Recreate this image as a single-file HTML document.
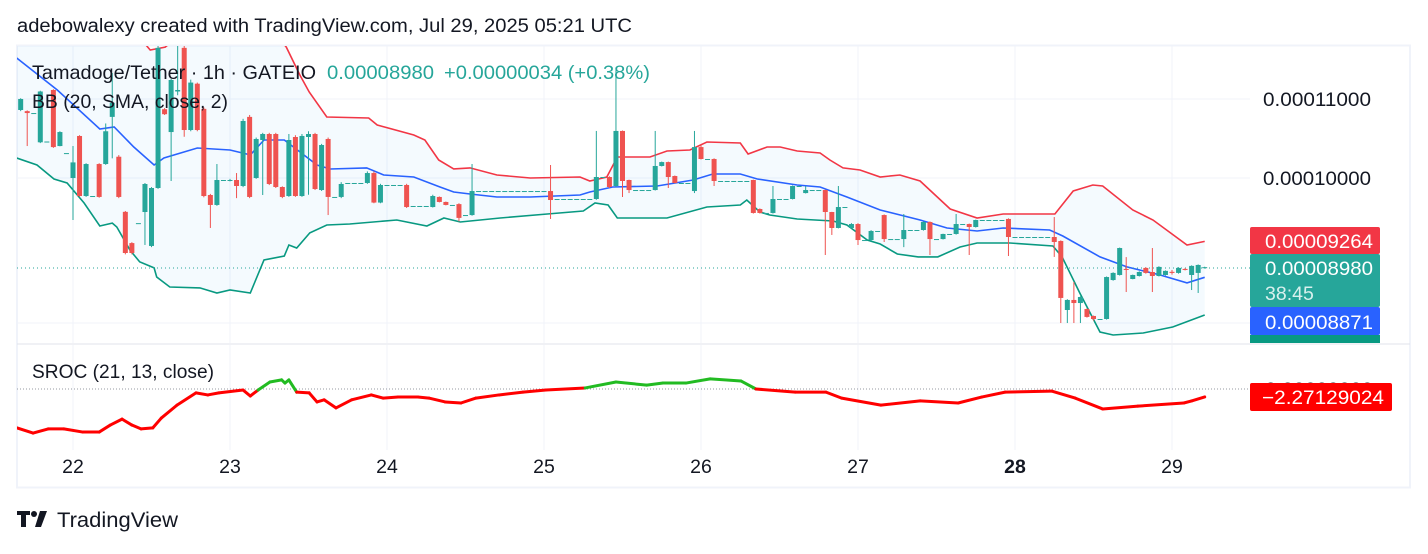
<!DOCTYPE html>
<html><head><meta charset="utf-8">
<style>
html,body{margin:0;padding:0;background:#fff;}
body{width:1428px;height:549px;overflow:hidden;font-family:"Liberation Sans",Arial,sans-serif;}
svg text{font-family:"Liberation Sans",Arial,sans-serif;}
</style></head>
<body>
<svg id="chart" width="1428" height="549" viewBox="0 0 1428 549" xmlns="http://www.w3.org/2000/svg">
  <text x="17" y="32" font-size="19.6" fill="#131722" textLength="615" lengthAdjust="spacingAndGlyphs">adebowalexy created with TradingView.com, Jul 29, 2025 05:21 UTC</text>
  <rect x="17" y="45.5" width="1393" height="442" fill="none" stroke="#f0f3fa" stroke-width="2"/>
  <g id="grid"></g>
  <defs>
    <clipPath id="mainClip"><rect x="17" y="46" width="1233" height="297"/></clipPath>
    <clipPath id="subClip"><rect x="17" y="345" width="1233" height="105"/></clipPath>
  </defs>
  <g id="bands" clip-path="url(#mainClip)"></g>
  <line x1="17" x2="1250" y1="268" y2="268" stroke="#26a69a" stroke-width="1" stroke-dasharray="1,3"/>
  <g id="candles" clip-path="url(#mainClip)"></g>
  <line x1="17" x2="1410" y1="344" y2="344" stroke="#e0e3eb" stroke-width="1"/>
  <line x1="17" x2="1250" y1="389" y2="389" stroke="#9598a1" stroke-width="1" stroke-dasharray="1,2"/>
  <g id="sroc" clip-path="url(#subClip)"></g>

  <g>
    <text x="32" y="79" font-size="19.5" fill="#131722" textLength="284" lengthAdjust="spacingAndGlyphs">Tamadoge/Tether · 1h · GATEIO</text>
    <text x="327" y="79" font-size="19.5" fill="#26a69a" textLength="107" lengthAdjust="spacingAndGlyphs">0.00008980</text>
    <text x="444" y="79" font-size="19.5" fill="#26a69a" textLength="206" lengthAdjust="spacingAndGlyphs">+0.00000034 (+0.38%)</text>
    <text x="32" y="108" font-size="19.5" fill="#131722" textLength="196" lengthAdjust="spacingAndGlyphs">BB (20, SMA, close, 2)</text>
    <text x="32" y="378" font-size="19.5" fill="#131722" textLength="182" lengthAdjust="spacingAndGlyphs">SROC (21, 13, close)</text>
  </g>

  <g id="priceaxis"></g>

  <g>
    <rect x="1250" y="227" width="130" height="27" rx="2" fill="#f23645"/>
    <text x="1265" y="248" font-size="19.5" fill="#fff" textLength="108" lengthAdjust="spacingAndGlyphs">0.00009264</text>
    <rect x="1250" y="254" width="130" height="53" rx="2" fill="#26a69a"/>
    <text x="1265" y="275" font-size="19.5" fill="#fff" textLength="108" lengthAdjust="spacingAndGlyphs">0.00008980</text>
    <text x="1265" y="300" font-size="19.5" fill="#d8f0ed">38:45</text>
    <rect x="1250" y="307" width="130" height="28" rx="2" fill="#2962ff"/>
    <text x="1265" y="329" font-size="19.5" fill="#fff" textLength="108" lengthAdjust="spacingAndGlyphs">0.00008871</text>
    <rect x="1250" y="335" width="130" height="8" fill="#089981"/>
    <text x="1265" y="396" font-size="19.5" fill="#131722" textLength="108" lengthAdjust="spacingAndGlyphs">0.00000000</text>
    <rect x="1250" y="383" width="142" height="28" rx="2" fill="#ff0000"/>
    <text x="1262" y="404" font-size="19.5" fill="#fff" textLength="122" lengthAdjust="spacingAndGlyphs">−2.27129024</text>
  </g>

  <g id="timeaxis"></g>

  <g>
    <path d="M17 511h13v4h-4v12h-5v-12h-4z" fill="#131722"/>
    <circle cx="34" cy="514" r="3" fill="#131722"/>
    <path d="M40 511h7l-6 16h-6z" fill="#131722"/>
    <text x="57" y="527" font-size="21.5" fill="#131722" textLength="121" lengthAdjust="spacingAndGlyphs">TradingView</text>
  </g>
</svg>
<script>
// ---- data (prices in units of 1e-8 USDT, hourly from t=-8 where t=0 is Jul 22 00:00) ----
const startHour = -8;
const candles = [
[10855,11010,10840,11000],[10840,10850,10393,10815],[10815,10815,10815,10815],[10440,11110,10430,11100],
[10450,10450,10450,10450],[11120,11130,10370,10380],[10393,10580,10390,10570],[10305,10305,10305,10305],
[10000,10393,9506,10190],[10520,10530,9775,9785],[9785,10180,9775,10170],[9785,9785,9785,9785],
[10170,10180,9765,9774],[10170,10680,10160,10580],[10765,11350,10240,10950],[10260,10280,9760,9774],
[9600,9610,9120,9135],[9245,9255,9120,9135],[9470,9470,9470,9470],[9598,9940,9224,9928],
[9213,9890,9200,9880],[9880,11740,9870,11700],[10865,10880,10790,10800],[10570,11270,9964,11255],
[11100,11740,11050,11120],[11700,11740,10510,10596],[10596,11260,10580,11220],[11205,11220,10580,10596],
[10870,10890,9770,9785],[9797,9810,9415,9680],[9680,10170,9670,9976],[9976,9976,9976,9976],
[9976,9990,9960,9976],[9976,10060,9760,9904],[9904,10740,9890,10712],[10765,10790,9760,9774],
[10000,10500,9990,10482],[10469,10560,9797,10545],[10545,10560,9915,9928],[10545,10560,9880,9892],
[9892,9900,9760,9774],[9785,10545,9775,10469],[10507,10530,9775,9785],[9785,10545,9775,10520],
[10507,10580,9800,10545],[10545,10560,9856,9868],[9856,10420,9845,10406],[10482,10500,9563,9774],
[9774,9774,9774,9774],[9774,9950,9760,9928],[9940,9940,9940,9940],[9940,9940,9940,9940],
[9940,9940,9940,9940],[9940,10080,9930,10060],[10060,10080,9700,9708],[9708,9930,9700,9916],
[9916,9916,9916,9916],[9916,9916,9916,9916],[9916,9916,9916,9916],[9916,9930,9645,9656],
[9668,9668,9668,9668],[9668,9668,9668,9668],[9668,9668,9668,9668],[9656,9800,9650,9785],
[9774,9780,9710,9715],[9715,9720,9675,9680],[9680,9680,9680,9680],[9690,9700,9490,9530],
[9563,9563,9563,9563],[9563,10170,9555,9844],[9844,9844,9844,9844],[9844,9844,9844,9844],
[9844,9844,9844,9844],[9844,9844,9844,9844],[9844,9844,9844,9844],[9844,9844,9844,9844],
[9844,9844,9844,9844],[9844,9844,9844,9844],[9844,9844,9844,9844],[9844,9844,9844,9844],
[9844,9844,9844,9844],[9844,10158,9518,9738],[9750,9750,9750,9750],[9750,9750,9750,9750],
[9750,9750,9750,9750],[9750,9750,9750,9750],[9750,9750,9750,9750],[9750,9750,9750,9750],
[9750,10584,9740,10012],[10012,10012,10012,10012],[10012,10020,9880,9892],[9904,11390,9895,10584],
[10584,10590,9774,9964],[9976,9980,9820,9856],[9856,9856,9856,9856],[9856,9856,9856,9856],
[9856,9856,9856,9856],[9856,10584,9850,10146],[10146,10200,10140,10194],[10194,10200,9880,10012],
[10024,10030,9935,9940],[9940,9940,9940,9940],[9940,9940,9940,9940],[9844,10584,9820,10380],
[10380,10410,10225,10232],[10232,10232,10232,10232],[10232,10240,9904,9964],[9964,9964,9964,9964],
[9964,9964,9964,9964],[9964,9964,9964,9964],[9964,9964,9964,9964],[9964,9964,9964,9964],
[9976,9980,9580,9587],[9633,9640,9580,9587],[9587,9587,9587,9587],[9587,9904,9580,9750],
[9750,9750,9750,9750],[9750,9750,9750,9750],[9750,9910,9745,9904],[9904,9904,9904,9904],
[9820,9904,9815,9856],[9856,9856,9856,9856],[9856,9856,9856,9856],[9856,9860,9113,9598],
[9598,9600,9336,9415],[9415,9904,9410,9656],[9656,9656,9656,9656],[9415,9470,9410,9460],
[9460,9470,9224,9279],[9279,9279,9279,9279],[9279,9390,9270,9381],[9381,9381,9381,9381],
[9563,9570,9257,9290],[9290,9290,9290,9290],[9290,9290,9290,9290],[9290,9575,9200,9392],
[9392,9392,9392,9392],[9392,9392,9392,9392],[9392,9490,9385,9483],[9483,9490,9113,9290],
[9290,9290,9290,9290],[9290,9350,9285,9347],[9347,9347,9347,9347],[9347,9575,9340,9460],
[9460,9460,9460,9460],[9460,9465,9113,9426],[9426,9510,9420,9506],[9506,9506,9506,9506],
[9506,9506,9506,9506],[9506,9506,9506,9506],[9506,9506,9506,9506],[9518,9525,9102,9313],
[9313,9313,9313,9313],[9313,9313,9313,9313],[9313,9313,9313,9313],[9313,9313,9313,9313],
[9313,9313,9313,9313],[9313,9313,9313,9313],[9313,9540,9092,9257],[9268,9275,8395,8653],
[8528,8640,8395,8632],[8632,8820,8395,8600],[8600,8670,8395,8663],[8538,8545,8450,8457],
[8467,8470,8420,8436],[8436,8436,8436,8436],[8436,8880,8430,8874],[8842,8925,8835,8918],
[8896,9195,8890,9190],[8961,9090,8715,8950],[8853,8900,8850,8896],[8885,8935,8880,8928],
[8972,8980,8910,8918],[8928,9190,8715,8885],[8885,8990,8880,8983],[8896,8945,8890,8940],
[8930,8950,8900,8918],[8918,8980,8910,8972],[8961,8970,8945,8950],[8896,9000,8736,8994],
[8918,9010,8705,9004],[8972,8985,8965,8980]
];
const upperTimes = [-8.6,4.1,11.8,14.1,16.4,19.4,28.6,32.6,34.7,36.1,38.8,45.2,46.5,52.1,53.8,55.9,58.2,60.7,64.8,69.9,77.5,79,81.6,83.2,88.2,90.8,94.3,96.9,102,103.2,106.1,108.1,110.7,114.2,115.7,117.7,120.3,123.4,126.4,129.5,134.1,138.2,142.2,150.1,152.9,155.9,157.4,162,165.1,170.3,173];
const upperVals = [12700,12540,11670,11710,11880,12170,12170,11710,11320,11093,10763,10750,10660,10532,10469,10220,10110,10122,10036,10000,10012,9964,10012,10256,10256,10331,10344,10444,10431,10294,10381,10381,10331,10306,10220,10122,10097,10012,10036,9964,9633,9529,9575,9575,9844,9916,9904,9621,9506,9224,9264];
const basisTimes = [-8.6,-2.4,4.1,6.3,9.3,12.4,13.9,19,24,27.1,29.2,32.3,34.7,37.3,39.3,44.9,47.5,52.1,56.1,58.2,60.7,64.8,69.9,77.5,79,82.5,89.3,94.8,97.8,102,104.6,110.7,114.2,118.3,123.4,129.5,133.6,138.2,142.2,149.3,151.3,157,161.1,166.2,170.3,173];
const basisVals = [11557,11120,10609,10635,10381,10158,10244,10369,10344,10282,10469,10469,10319,10158,10109,10122,10036,10012,9892,9832,9809,9774,9774,9797,9832,9892,9904,9976,10048,10048,9988,9916,9892,9774,9621,9506,9415,9381,9415,9392,9324,9092,8983,8896,8811,8871];
const lowerTimes = [-8.6,-5.5,-2.9,-0.9,1.7,4.1,6,6.7,8.7,10.2,12.4,12.8,14.8,19.4,22,24,27.1,29.2,32.3,33,34.2,36.2,38.8,42.3,49.5,54.1,56.7,59.2,65.3,72.5,78,79.8,81.8,83.2,90.8,96.9,102,103,105,106.5,110.7,116.2,118.3,121.4,123.4,126,129.2,132.2,135.6,138.2,143.2,149.8,151.2,153.9,157,159,163.6,168.1,173];
const lowerVals = [10244,10158,9988,9940,9703,9437,9471,9426,9168,9037,8972,8874,8768,8758,8705,8736,8705,9058,9102,9224,9190,9359,9449,9460,9506,9437,9529,9483,9529,9575,9610,9703,9680,9529,9529,9656,9680,9738,9598,9563,9518,9494,9449,9279,9235,9124,9092,9092,9201,9246,9246,9213,9092,8705,8305,8275,8295,8355,8477];
const srocTimes = [-8.6,-6.1,-3.8,-1.4,1.5,4,5.7,7.5,9,10.4,12.2,13.5,15.9,18.8,20.6,22.3,26,27.1,28.3,30.1,31.9,32.4,33,34.2,36.1,37.3,38.4,40.2,42.6,45.6,47.4,49.7,52.7,54.4,56.9,59.3,61.6,65.1,68.8,72.3,78.3,83,87.7,90.2,93.7,97.4,102.1,104.4,110.4,115.1,117.5,123.5,129.5,135.3,138.9,142.5,149.6,153.2,157.4,162.8,169.8,171,173];
const srocVals = [-11.1,-12.6,-11.4,-11.4,-12.3,-12.3,-10.3,-8.6,-10.3,-11.4,-11.1,-8.3,-4.6,-1.1,-1.7,-1.1,-0.3,-2.0,-0.3,2.0,2.6,1.7,2.6,-0.9,-1.1,-3.7,-3.1,-5.4,-3.1,-1.7,-2.6,-2.3,-2.3,-2.6,-3.7,-4.0,-2.6,-1.7,-0.9,-0.3,0.3,2.0,1.1,1.7,1.7,2.9,2.3,0,-0.9,-0.9,-2.6,-4.6,-3.4,-4.0,-2.3,-0.9,-0.6,-2.6,-5.7,-4.9,-4.0,-3.4,-2.27];
const priceTicks = [11000,10000];
const priceTickLabels = ["0.00011000","0.00010000"];
const dayTicks = [0,24,48,72,96,120,144,168];
const dayLabels = ["22","23","24","25","26","27","28","29"];

// ---- scales ----
const X = t => 73 + t * 157 / 24;
const Y = p => 178 + 829 * Math.log(10000 / p);
const YS = v => 389 - v * 3.5;
const NS = "http://www.w3.org/2000/svg";
function mk(tag, attrs, parent){ const e=document.createElementNS(NS,tag); for(const k in attrs) e.setAttribute(k,attrs[k]); parent.appendChild(e); return e; }

// grid
const grid = document.getElementById('grid');
[99,178,323].forEach(y=>{ const l=mk('line',{x1:17,x2:1250,y1:y,y2:y,stroke:'#f0f3fa','stroke-width':1},grid);

 });
dayTicks.forEach(t=>{ const x=X(t);
 const a=mk('line',{x1:x,x2:x,y1:46,y2:343,stroke:'#f0f3fa','stroke-width':1},grid);
 
 
 const b=mk('line',{x1:x,x2:x,y1:345,y2:450,stroke:'#f0f3fa','stroke-width':1},grid);
 
  });

// price axis
const pa=document.getElementById('priceaxis');
priceTicks.forEach((p,i)=>{ const t=mk('text',{x:1263,y:Y(p)+7,'font-size':19.5,fill:'#131722',textLength:108,lengthAdjust:'spacingAndGlyphs'},pa); t.textContent=priceTickLabels[i];

 });

// time axis
const ta=document.getElementById('timeaxis');
dayTicks.forEach((d,i)=>{ const t=mk('text',{x:X(d),y:473,'font-size':19.5,fill:'#131722','text-anchor':'middle','font-weight':dayLabels[i]==='28'?'bold':'normal'},ta); t.textContent=dayLabels[i];

 });

// bands
const bands=document.getElementById('bands');
const pts=(ts,vs)=>ts.map((t,i)=>X(t).toFixed(1)+','+Y(vs[i]).toFixed(1));
const up=pts(upperTimes,upperVals), lo=pts(lowerTimes,lowerVals);
const fill=mk('polygon',{points:up.concat(lo.slice().reverse()).join(' '),fill:'rgba(33,150,243,0.05)'},bands);


const ul=mk('polyline',{points:up.join(' '),fill:'none',stroke:'#f23645','stroke-width':1.6},bands);


const bl=mk('polyline',{points:pts(basisTimes,basisVals).join(' '),fill:'none',stroke:'#2962ff','stroke-width':1.6},bands);


const ll=mk('polyline',{points:lo.join(' '),fill:'none',stroke:'#089981','stroke-width':1.6},bands);



// candles
const cg=document.getElementById('candles');
candles.forEach((c,i)=>{
 const t=startHour+i, x=X(t), [o,h,l,cl]=c;
 const col = cl>=o ? '#26a69a' : '#ef5350';
 const g=mk('g',{},cg);
 
 
 if(h>Math.max(o,cl)||l<Math.min(o,cl)) mk('line',{x1:x,x2:x,y1:Y(h),y2:Y(l),stroke:col,'stroke-width':1},g);
 const yt=Y(Math.max(o,cl)), yb=Y(Math.min(o,cl));
 mk('rect',{x:x-2.5,y:yt,width:5,height:Math.max(1,yb-yt),fill:col},g);
});

// SROC
const sg=document.getElementById('sroc');
for(let i=0;i<srocTimes.length-1;i++){
 const avg=(srocVals[i]+srocVals[i+1])/2;
 const s=mk('line',{x1:X(srocTimes[i]),y1:YS(srocVals[i]),x2:X(srocTimes[i+1]),y2:YS(srocVals[i+1]),stroke:avg>0?'#22bb22':'#ff0000','stroke-width':3,'stroke-linecap':'round'},sg);
 
 
}
</script>
</body></html>
